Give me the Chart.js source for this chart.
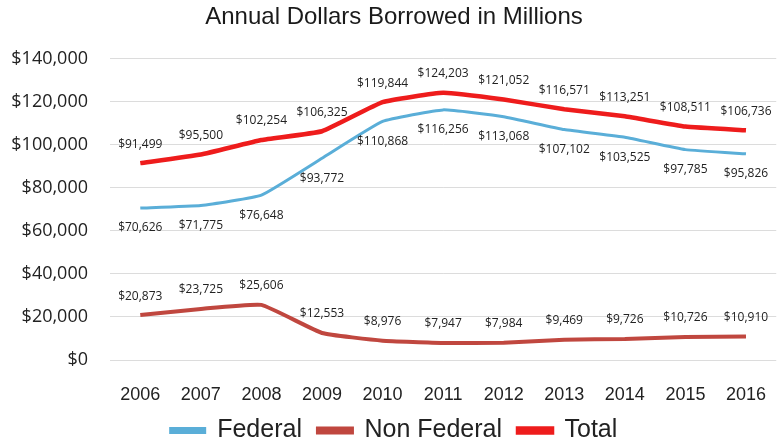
<!DOCTYPE html>
<html>
<head>
<meta charset="utf-8">
<title>Annual Dollars Borrowed in Millions</title>
<script src="https://cdn.jsdelivr.net/npm/chart.js@4/dist/chart.umd.min.js"></script>
<style>
  html, body { margin: 0; padding: 0; background: #fff; }
  #wrap { width: 782px; height: 445px; position: relative; }
</style>
</head>
<body>
<div id="wrap"><canvas id="borrowChart"></canvas></div>
<script>
const years = ["2006", "2007", "2008", "2009", "2010", "2011", "2012", "2013", "2014", "2015", "2016"];
const federal = [70626, 71775, 76648, 93772, 110868, 116256, 113068, 107102, 103525, 97785, 95826];
const nonFederal = [20873, 23725, 25606, 12553, 8976, 7947, 7984, 9469, 9726, 10726, 10910];
const total = [91499, 95500, 102254, 106325, 119844, 124203, 121052, 116571, 113251, 108511, 106736];
const yTicks = [0, 20000, 40000, 60000, 80000, 100000, 120000, 140000];

const money = v => "$" + v.toLocaleString("en-US");

// value labels drawn next to each point (above or below, per dataset)
const pointLabels = {
    id: "pointLabels",
    afterDatasetsDraw(chart) {
        const ctx = chart.ctx;
        ctx.save();
        ctx.font = "12px 'Open Sans', sans-serif";
        ctx.fillStyle = "#222";
        ctx.textAlign = "center";
        ctx.textBaseline = "middle";
        chart.data.datasets.forEach((ds, i) => {
            const meta = chart.getDatasetMeta(i);
            meta.data.forEach((pt, j) => {
                ctx.fillText(money(ds.data[j]), pt.x, pt.y + ds.labelShift);
            });
        });
        ctx.restore();
    }
};

new Chart(document.getElementById("borrowChart"), {
    type: "line",
    data: {
        labels: years,
        datasets: [
            {
                label: "Federal",
                data: federal,
                borderColor: "#5aaed8",
                backgroundColor: "#5aaed8",
                borderWidth: 3,
                labelShift: 20
            },
            {
                label: "Non Federal",
                data: nonFederal,
                borderColor: "#c0473f",
                backgroundColor: "#c0473f",
                borderWidth: 4,
                labelShift: -19
            },
            {
                label: "Total",
                data: total,
                borderColor: "#ee1c1c",
                backgroundColor: "#ee1c1c",
                borderWidth: 4.5,
                labelShift: -19
            }
        ]
    },
    options: {
        responsive: true,
        maintainAspectRatio: false,
        animation: false,
        elements: {
            point: { radius: 0 },
            line: { tension: 0.12 }
        },
        layout: { padding: { top: 0, left: 0, bottom: 0, right: -6 } },
        scales: {
            x: {
                offset: true,
                afterFit(axis) { axis.height = 42; },
                grid: { display: false },
                border: { display: false },
                ticks: {
                    color: "#222",
                    padding: 16,
                    font: { family: "'Liberation Sans Narrow', 'Liberation Sans', sans-serif", size: 18 }
                }
            },
            y: {
                min: 0,
                max: 140000,
                afterFit(axis) { axis.width = 110; },
                afterBuildTicks(axis) { axis.ticks = yTicks.map(v => ({ value: v })); },
                grid: { color: "#dcdcdc", drawTicks: false },
                border: { display: false },
                ticks: {
                    color: "#222",
                    padding: 22,
                    font: { family: "'Open Sans', sans-serif", size: 18 },
                    callback: v => money(v)
                }
            }
        },
        plugins: {
            title: {
                display: true,
                text: "Annual Dollars Borrowed in Millions",
                color: "#1a1a1a",
                font: { family: "'Liberation Sans', Arial, sans-serif", size: 24, weight: "normal" },
                padding: { top: 3, bottom: 27 }
            },
            legend: {
                position: "bottom",
                maxHeight: 43,
                labels: {
                    color: "#222",
                    boxWidth: 34,
                    boxHeight: 4,
                    padding: 16,
                    font: { family: "'Liberation Sans Narrow', 'Liberation Sans', sans-serif", size: 25 }
                }
            },
            tooltip: { enabled: false }
        }
    },
    plugins: [pointLabels]
});
</script>
</body>
</html>
